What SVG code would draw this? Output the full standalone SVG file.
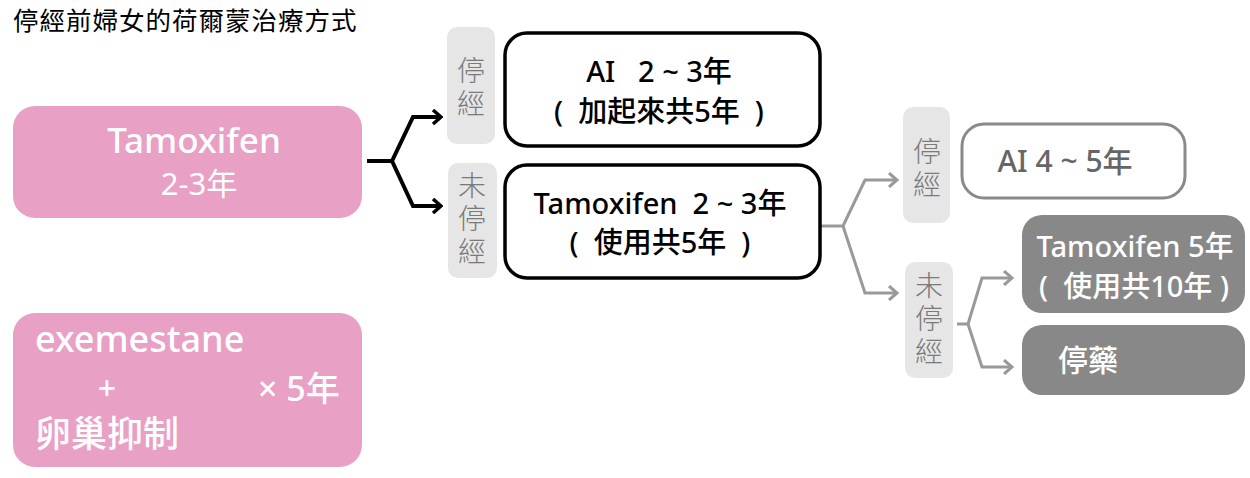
<svg xmlns="http://www.w3.org/2000/svg" width="1250" height="478" viewBox="0 0 1250 478">
<defs>
<marker id="ab" viewBox="0 0 12 16" refX="10" refY="8" markerWidth="12" markerHeight="16" markerUnits="userSpaceOnUse" orient="auto">
<path d="M2,1 L10,8 L2,15" fill="none" stroke="#000" stroke-width="3.5"/>
</marker>
<marker id="ag" viewBox="0 0 12 16" refX="10" refY="8" markerWidth="12" markerHeight="16" markerUnits="userSpaceOnUse" orient="auto">
<path d="M2,1 L10,8 L2,15" fill="none" stroke="#999" stroke-width="3"/>
</marker>
</defs>
<style>
text{font-family:"Noto Sans","Noto Sans CJK TC",sans-serif;font-weight:500;}
.title{font-family:"Noto Sans CJK TC",serif;font-size:25.5px;fill:#000;letter-spacing:1px;font-weight:400;}
.pink{fill:#E9A0C5;}
.wt{fill:#fff;}
.lbl{fill:#E6E6E6;}
.lt{fill:#7a7a7a;font-size:28px;font-family:"Noto Sans CJK TC",sans-serif;font-weight:300;writing-mode:vertical-rl;letter-spacing:5px;}
.bbox{fill:#fff;stroke:#000;stroke-width:3.5;}
.gbox{fill:#fff;stroke:#8a8a8a;stroke-width:3;}
.dbox{fill:#888;}
.bt{fill:#000;font-size:29px;text-anchor:middle;}
.reg{font-weight:400;}
.c{fill:none;stroke-linejoin:miter;}
.cb{stroke:#000;stroke-width:4;}
.cg{stroke:#999;stroke-width:3;}
</style>
<text class="title" x="13" y="30">停經前婦女的荷爾蒙治療方式</text>

<g id="connectors">
<path class="c cb" d="M367,161 H392 L413,117 H441" marker-end="url(#ab)"/>
<path class="c cb" d="M392,161 L413,206 H441" marker-end="url(#ab)"/>
<path class="c cg" d="M820,226 H843 L865,180 H897" marker-end="url(#ag)"/>
<path class="c cg" d="M843,226 L865,293 H897" marker-end="url(#ag)"/>
<path class="c cg" d="M957,324 H968 L982,278 H1012" marker-end="url(#ag)"/>
<path class="c cg" d="M968,324 L982,367 H1012" marker-end="url(#ag)"/>
</g>

<g id="tamoxifen23">
<rect class="pink" x="13" y="106" width="349" height="112" rx="22"/>
<text class="wt" text-anchor="middle"><tspan x="194" y="153" font-size="35">Tamoxifen</tspan><tspan class="reg" x="199" y="195" font-size="31">2-3年</tspan></text>
</g>

<g id="exemestane">
<rect class="pink" x="13" y="313" width="349" height="154" rx="22"/>
<text class="wt" x="35" y="352" font-size="36">exemestane</text>
<text class="wt" x="107" y="400" font-size="32" text-anchor="middle">+</text>
<text class="wt" x="258" y="401" font-size="34">× 5年</text>
<text class="wt" x="35" y="447" font-size="36">卵巢抑制</text>
</g>

<g id="label1">
<rect class="lbl" x="447" y="27" width="48" height="117" rx="10"/>
<text class="lt" x="471" y="56">停經</text>
</g>

<g id="label2">
<rect class="lbl" x="448" y="163" width="49" height="115" rx="10"/>
<text class="lt" x="472" y="171">未停經</text>
</g>

<g id="ai23">
<rect class="bbox" x="505" y="33" width="315" height="113" rx="22"/>
<text class="bt" xml:space="preserve"><tspan x="659" y="82">AI   2 ~ 3年</tspan><tspan x="659" y="121.5">(  加起來共5年  )</tspan></text>
</g>

<g id="tam23">
<rect class="bbox" x="505" y="165" width="315" height="113" rx="22"/>
<text class="bt" xml:space="preserve"><tspan x="660" y="213.5">Tamoxifen  2 ~ 3年</tspan><tspan x="660" y="253">(  使用共5年  )</tspan></text>
</g>

<g id="label3">
<rect class="lbl" x="903" y="107" width="47" height="116" rx="10"/>
<text class="lt" x="927" y="137">停經</text>
</g>

<g id="label4">
<rect class="lbl" x="905" y="262" width="48" height="116" rx="10"/>
<text class="lt" x="929" y="271">未停經</text>
</g>

<g id="ai45">
<rect class="gbox" x="962" y="124" width="223" height="74" rx="22"/>
<text x="1065" y="172" font-size="30" fill="#666" text-anchor="middle">AI 4 ~ 5年</text>
</g>

<g id="tam5">
<rect class="dbox" x="1022" y="215" width="223" height="98" rx="20"/>
<text class="wt" font-size="29" text-anchor="middle" xml:space="preserve"><tspan x="1135" y="257">Tamoxifen 5年</tspan><tspan x="1134" y="297">(  使用共10年 )</tspan></text>
</g>

<g id="stop">
<rect class="dbox" x="1022" y="325" width="223" height="70" rx="20"/>
<text class="wt" x="1058" y="371" font-size="30">停藥</text>
</g>
</svg>
